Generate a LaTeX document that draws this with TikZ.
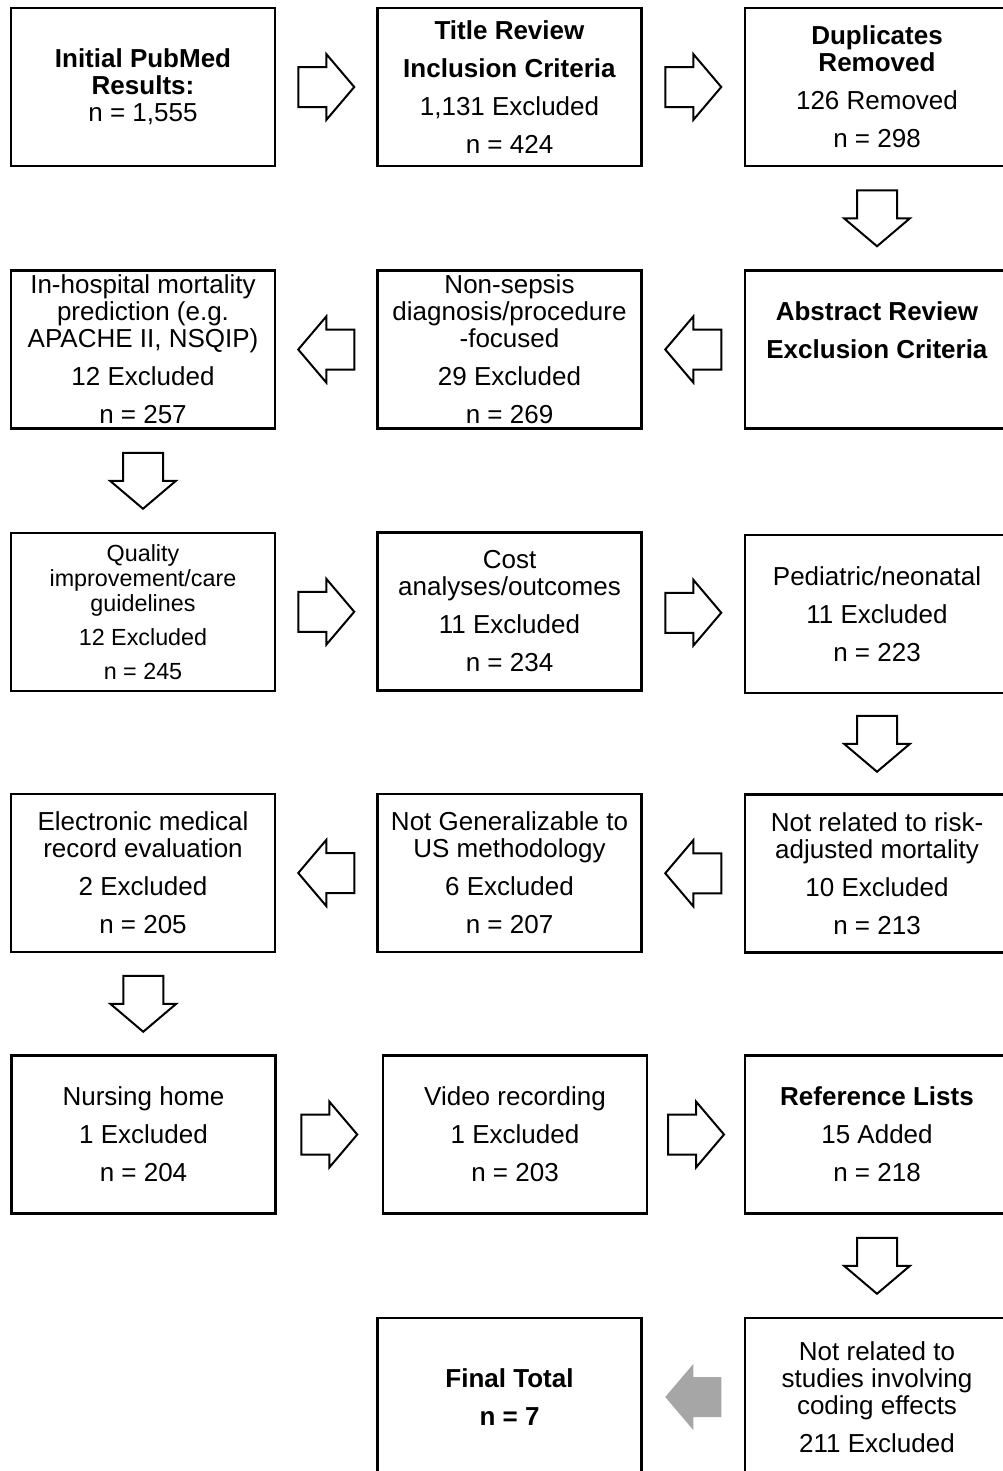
\documentclass[tikz,border=0pt]{standalone}
\usepackage{fontspec}
\setmainfont{Liberation Sans}
\usetikzlibrary{calc}
\definecolor{arrowgray}{RGB}{166,166,166}
\newcommand{\hd}[1]{\textbf{#1}}
\newcommand{\lgap}{8.25pt}
\tikzset{
  stagebox/.style={draw, line width=2pt, minimum width=198pt, minimum height=118.5pt,
    inner sep=0pt, align=center, font=\fontsize{19.5}{20.25}\selectfont},
  smalltext/.style={font=\fontsize{17.5}{18.75}\selectfont},
  whitearrow/.style={draw, line width=1.5pt, fill=white},
  grayarrow/.style={fill=arrowgray},
  blockarrow/.pic={
    \path[#1] (-28,-20) -- (0,-20) -- (0,-33) -- (28,0)
      -- (0,33) -- (0,20) -- (-28,20) -- cycle;
  }
}
\begin{document}
\begin{tikzpicture}[x=0.75pt, y=-0.75pt]
\useasboundingbox (0,0) rectangle (1003,1471);
\clip (0,0) rectangle (1003,1471);
% row 1
\node[stagebox] (init) at (143,87) {\hd{Initial PubMed}\\\hd{Results:}\\n = 1,555};
\node[stagebox] (title) at (509.5,87) {\hd{Title Review}\\[\lgap]\hd{Inclusion Criteria}\\[\lgap]1,131 Excluded\\[\lgap]n = 424};
\node[stagebox] (dupl) at (877,87) {\hd{Duplicates}\\\hd{Removed}\\[\lgap]126 Removed\\[\lgap]n = 298};
% row 2
\node[stagebox] (hosp) at (143,349.5) {In-hospital mortality\\prediction (e.g.\\APACHE II, NSQIP)\\[\lgap]12 Excluded\\[\lgap]n = 257};
\node[stagebox] (nonsep) at (509.5,349.5) {Non-sepsis\\diagnosis/procedure\\-focused\\[\lgap]29 Excluded\\[\lgap]n = 269};
\node[stagebox] (abstr) at (877,349.5) {\hd{Abstract Review}\\[\lgap]\hd{Exclusion Criteria}\\[\lgap]\mbox{}};
% row 3
\node[stagebox, smalltext] (qual) at (143,612) {Quality\\improvement/care\\guidelines\\[7pt]12 Excluded\\[7pt]n = 245};
\node[stagebox] (cost) at (509.5,611.5) {Cost\\analyses/outcomes\\[\lgap]11 Excluded\\[\lgap]n = 234};
\node[stagebox] (pedi) at (877,614) {Pediatric/neonatal\\[\lgap]11 Excluded\\[\lgap]n = 223};
% row 4
\node[stagebox] (emr) at (143,873) {Electronic medical\\record evaluation\\[\lgap]2 Excluded\\[\lgap]n = 205};
\node[stagebox] (genrl) at (509.5,873) {Not Generalizable to\\US methodology\\[\lgap]6 Excluded\\[\lgap]n = 207};
\node[stagebox] (risk) at (877,873.5) {Not related to risk-\\adjusted mortality\\[\lgap]10 Excluded\\[\lgap]n = 213};
% row 5
\node[stagebox] (nurs) at (143.5,1134.5) {Nursing home\\[\lgap]1 Excluded\\[\lgap]n = 204};
\node[stagebox] (video) at (515,1134.5) {Video recording\\[\lgap]1 Excluded\\[\lgap]n = 203};
\node[stagebox] (refs) at (877,1134.5) {\hd{Reference Lists}\\[\lgap]15 Added\\[\lgap]n = 218};
% row 6
\node[stagebox] (final) at (509.5,1397) {\hd{Final Total}\\[\lgap]\hd{n = 7}};
\node[stagebox] (coding) at (877,1397) {Not related to\\studies involving\\coding effects\\[\lgap]211 Excluded};
% block arrows
\pic at ($(init.east)!.5!(title.west)$) {blockarrow=whitearrow};
\pic at ($(title.east)!.5!(dupl.west)$) {blockarrow=whitearrow};
\pic[rotate=-90] at ($(dupl.south)!.5!(abstr.north)$) {blockarrow=whitearrow};
\pic[rotate=180] at ($(abstr.west)!.5!(nonsep.east)$) {blockarrow=whitearrow};
\pic[rotate=180] at ($(nonsep.west)!.5!(hosp.east)$) {blockarrow=whitearrow};
\pic[rotate=-90] at ($(hosp.south)!.5!(qual.north)$) {blockarrow=whitearrow};
\pic at ($(qual.east)!.5!(cost.west)$) {blockarrow=whitearrow};
\pic at ($(cost.east)!.5!(pedi.west)$) {blockarrow=whitearrow};
\pic[rotate=-90] at ($(pedi.south)!.5!(risk.north)$) {blockarrow=whitearrow};
\pic[rotate=180] at ($(risk.west)!.5!(genrl.east)$) {blockarrow=whitearrow};
\pic[rotate=180] at ($(genrl.west)!.5!(emr.east)$) {blockarrow=whitearrow};
\pic[rotate=-90] at ($(emr.south)!.5!(nurs.north)$) {blockarrow=whitearrow};
\pic at ($(nurs.east)!.5!(video.west)$) {blockarrow=whitearrow};
\pic at ($(video.east)!.5!(refs.west)$) {blockarrow=whitearrow};
\pic[rotate=-90] at ($(refs.south)!.5!(coding.north)$) {blockarrow=whitearrow};
\pic[rotate=180] at ($(coding.west)!.5!(final.east)$) {blockarrow=grayarrow};
\end{tikzpicture}
\end{document}
